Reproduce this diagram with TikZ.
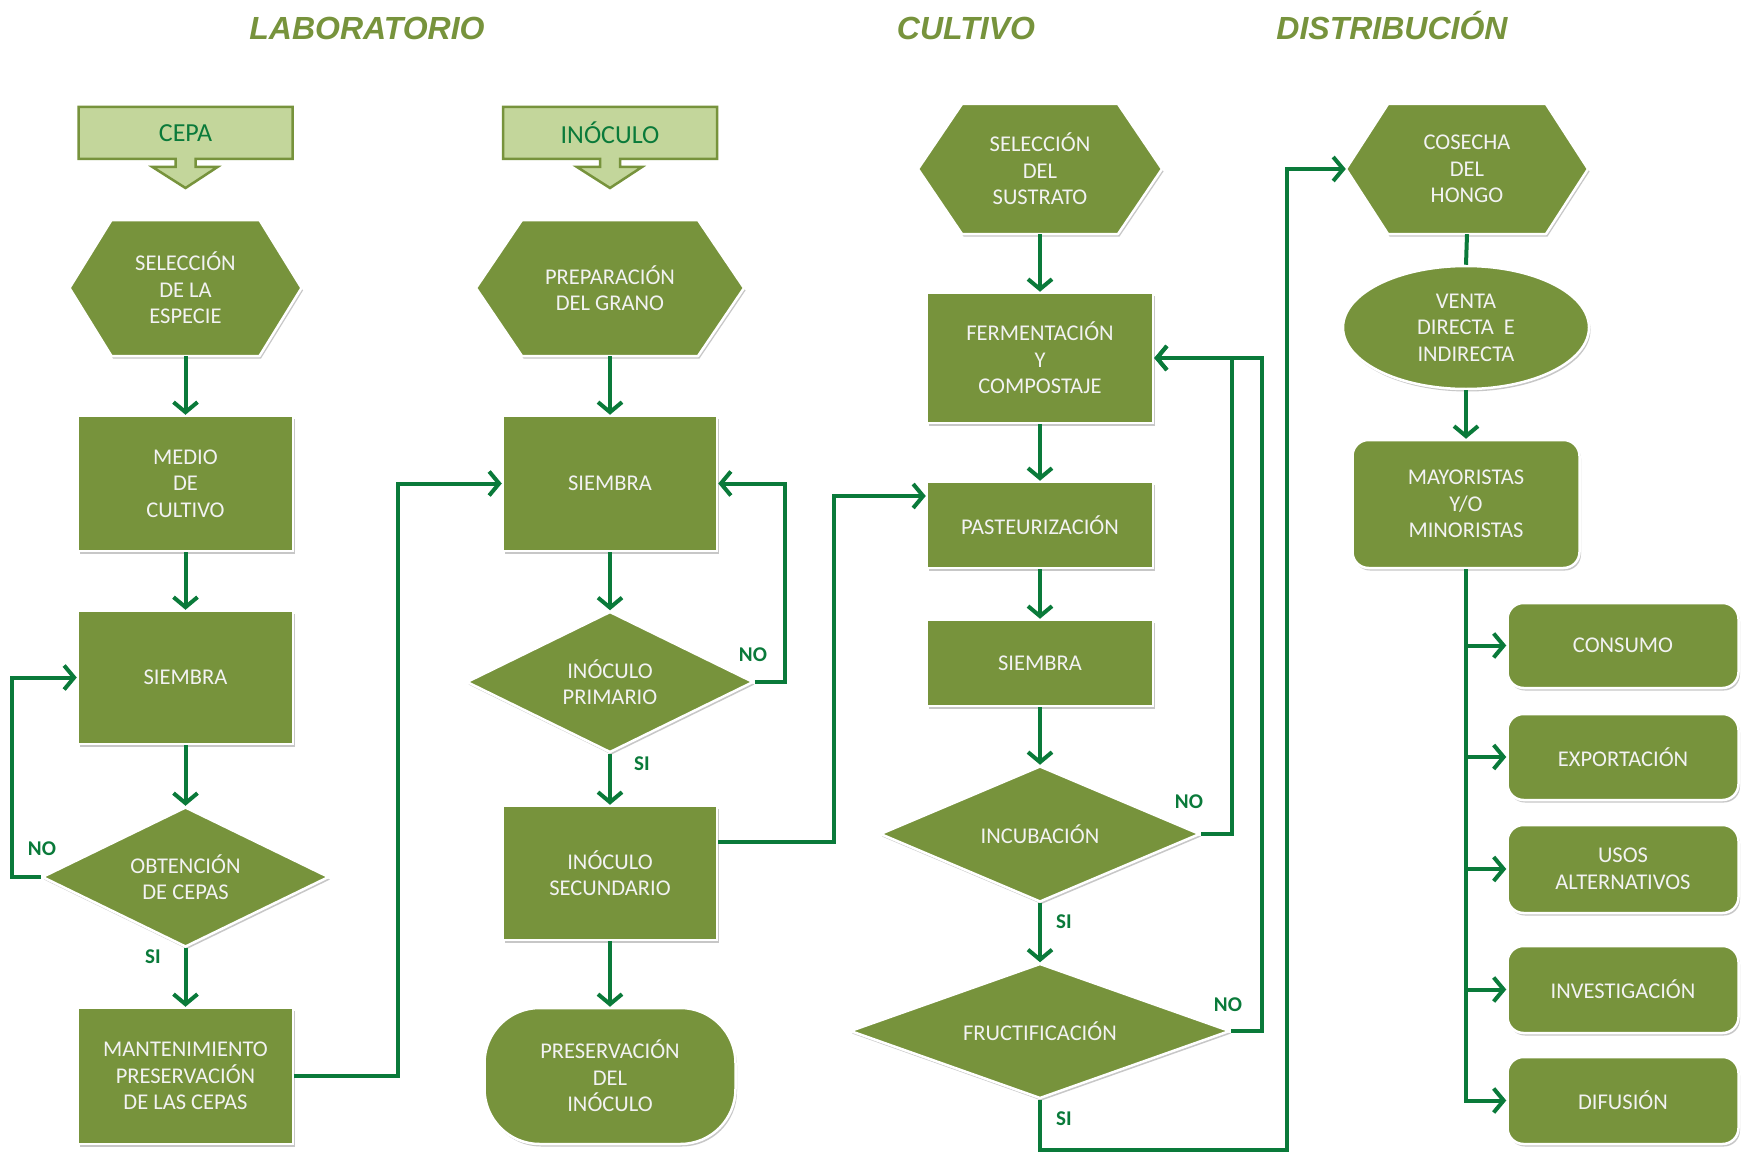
\documentclass[tikz,border=0pt]{standalone}
\usepackage{fontspec}
\setmainfont{Carlito}
\newfontfamily\titlefont{Liberation Sans}
\usetikzlibrary{shapes.geometric,shadows,arrows.meta,calc}
\definecolor{olive}{HTML}{77933C}
\definecolor{lgreen}{HTML}{C3D69B}
\definecolor{cgreen}{HTML}{0A7A3A}
\definecolor{txtc}{HTML}{F2F2F2}
\definecolor{tcol}{HTML}{77933C}
\tikzset{
 shapebase/.style={fill=olive, draw=white, line width=2.5pt,
   drop shadow={shadow xshift=1.5pt, shadow yshift=-2.5pt, opacity=0.4, fill=black!55}},
 txt/.style={text=txtc, align=center, font=\fontsize{22.5}{26.5}\selectfont, inner sep=0pt},
 box/.style={shapebase, txt, rectangle},
 rbox/.style={box, rounded corners=16pt},
 dia/.style={shapebase, txt, diamond},
 ell/.style={shapebase, txt, ellipse},
 hexfill/.style={shapebase, line join=round},
 arr/.style={draw=cgreen, line width=4pt, -{Straight Barb[length=10pt,width=24pt]}},
 conn/.style={draw=cgreen, line width=4pt},
 lab/.style={text=cgreen, font=\fontsize{21}{24}\selectfont\bfseries, inner sep=0pt},
 ttl/.style={text=tcol, font=\titlefont\fontsize{32}{36}\selectfont\bfseries\itshape, anchor=base},
 callout/.style={fill=lgreen, draw=olive, line width=2.5pt, line join=miter},
 calltxt/.style={text=cgreen, font=\fontsize{26}{30}\selectfont, inner sep=0pt}
}
% name, cx, cy, w, h, inset, text
\newcommand\hexnode[7]{%
  \path[hexfill] ({#2-#4/2},#3) -- ({#2-#4/2+#6},{#3-#5/2}) -- ({#2+#4/2-#6},{#3-#5/2})
     -- ({#2+#4/2},#3) -- ({#2+#4/2-#6},{#3+#5/2}) -- ({#2-#4/2+#6},{#3+#5/2}) -- cycle;
  \node[txt, minimum width=#4pt, minimum height=#5pt] (#1) at (#2,#3) {#7};}
% name, cx, text
\newcommand\callbox[3]{%
  \path[callout] ({#2-107},107) -- ({#2+107},107) -- ({#2+107},159) -- ({#2+10},159)
     -- ({#2+10},167) -- ({#2+32},167) -- (#2,188) -- ({#2-33},167) -- ({#2-10},167)
     -- ({#2-10},159) -- ({#2-107},159) -- cycle;
  \node[calltxt] (#1) at (#2,133) {#3};}
\begin{document}
\begin{tikzpicture}[x=1pt,y=-1pt]
\useasboundingbox[fill=white] (0,0) rectangle (1741,1153);

% titles
\node[ttl] (t1) at (367,40) {LABORATORIO};
\node[ttl] (t2) at (966,40) {CULTIVO};
\node[ttl] (t3) at (1392,40) {DISTRIBUCIÓN};

% column 1
\callbox{cepa}{185.5}{CEPA}
\hexnode{sel1}{185.5}{288}{232}{136}{42}{SELECCIÓN\\DE LA\\ESPECIE}
\node[box, minimum width=215pt, minimum height=135pt] (medio) at (185.5,483.5) {MEDIO\\DE\\CULTIVO};
\node[box, minimum width=215pt, minimum height=133pt] (siem1) at (185.5,677.5) {SIEMBRA};
\node[dia, aspect=2.05, minimum width=287pt, minimum height=140pt] (obt) at (185.5,877) {OBTENCIÓN\\DE CEPAS};
\node[box, minimum width=215pt, minimum height=136pt] (mant) at (185.5,1076) {MANTENIMIENTO\\PRESERVACIÓN\\DE LAS CEPAS};

% column 2
\callbox{inoc}{610}{INÓCULO}
\hexnode{prep}{610}{288}{268}{136}{46}{PREPARACIÓN\\DEL GRANO}
\node[box, minimum width=214pt, minimum height=135pt] (siem2) at (610,483.5) {SIEMBRA};
\node[dia, aspect=2.03, minimum width=287pt, minimum height=141pt] (inprim) at (610,682) {INÓCULO\\PRIMARIO};
\node[box, minimum width=214pt, minimum height=134pt] (insec) at (610,873) {INÓCULO\\SECUNDARIO};
\node[box, rounded corners=55pt, minimum width=251pt, minimum height=136pt] (pres) at (610,1076) {PRESERVACIÓN\\DEL\\INÓCULO};

% column 3
\hexnode{selsus}{1040}{169}{244}{130}{44}{SELECCIÓN\\DEL\\SUSTRATO}
\node[box, minimum width=226pt, minimum height=130pt] (ferm) at (1040,358) {FERMENTACIÓN\\Y\\COMPOSTAJE};
\node[box, minimum width=226pt, minimum height=86pt] (past) at (1040,525) {PASTEURIZACIÓN};
\node[box, minimum width=226pt, minimum height=86pt] (siem3) at (1040,663) {SIEMBRA};
\node[dia, aspect=2.35, minimum width=320pt, minimum height=136pt] (incub) at (1040,834) {INCUBACIÓN};
\node[dia, aspect=2.8, minimum width=380pt, minimum height=135pt] (fruct) at (1040,1031) {FRUCTIFICACIÓN};

% column 4
\hexnode{cos}{1467}{169}{242}{130}{42}{COSECHA\\DEL\\HONGO}
\node[ell, minimum width=246pt, minimum height=123pt] (venta) at (1466,327.5) {VENTA\\DIRECTA\ \ E\\INDIRECTA};
\node[rbox, minimum width=227pt, minimum height=128pt] (mayo) at (1466,504) {MAYORISTAS\\Y/O\\MINORISTAS};
\node[rbox, minimum width=231pt, minimum height=85pt] (cons) at (1623,645.5) {CONSUMO};
\node[rbox, minimum width=231pt, minimum height=86pt] (expo) at (1623,757) {EXPORTACIÓN};
\node[rbox, minimum width=231pt, minimum height=88pt] (usos) at (1623,869) {USOS\\ALTERNATIVOS};
\node[rbox, minimum width=231pt, minimum height=87pt] (inv) at (1623,989.5) {INVESTIGACIÓN};
\node[rbox, minimum width=231pt, minimum height=87pt] (dif) at (1623,1100.5) {DIFUSIÓN};

% connectors column 1
\draw[arr] (sel1.south) -- (medio.north);
\draw[arr] (medio.south) -- (siem1.north);
\draw[arr] (siem1.south) -- (obt.north);
\draw[arr] (obt.south) -- (mant.north);
\draw[arr] (obt.west) -- ++(-29,0) |- (siem1.west);
\draw[arr] (mant.east) -- ++(104,0) |- (siem2.west);
\node[lab] (no1) at (42,849) {NO};
\node[lab] (si1) at (153,957) {SI};

% connectors column 2
\draw[arr] (prep.south) -- (siem2.north);
\draw[arr] (siem2.south) -- (inprim.north);
\draw[arr] (inprim.east) -- ++(30,0) |- (siem2.east);
\draw[arr] (inprim.south) -- (insec.north);
\draw[arr] (insec.south) -- (pres.north);
\draw[arr] ([yshift=31pt]insec.east) -- ++(116,0) |- ([yshift=29pt]past.west);
\node[lab] (no2) at (753,655) {NO};
\node[lab] (si2) at (642,764) {SI};

% connectors column 3
\draw[arr] (selsus.south) -- (ferm.north);
\draw[arr] (ferm.south) -- (past.north);
\draw[arr] (past.south) -- (siem3.north);
\draw[arr] (siem3.south) -- (incub.north);
\draw[arr] (incub.south) -- (fruct.north);
\draw[arr] (incub.east) -- ++(31,0) |- (ferm.east);
\draw[arr] (fruct.east) -- ++(31,0) |- (ferm.east);
\coordinate (b1) at (1287,1150);
\draw[arr] (fruct.south) |- (b1) |- (cos.west);
\node[lab] (no3) at (1189,802) {NO};
\node[lab] (si3) at (1064,922) {SI};
\node[lab] (no4) at (1228,1005) {NO};
\node[lab] (si4) at (1064,1119) {SI};

% connectors column 4
\draw[conn] (cos.south) -- (venta.north);
\draw[arr] (venta.south) -- (mayo.north);
\draw[arr] (mayo.south) |- (dif.west);
\draw[arr] (mayo.south |- cons.west) -- (cons.west);
\draw[arr] (mayo.south |- expo.west) -- (expo.west);
\draw[arr] (mayo.south |- usos.west) -- (usos.west);
\draw[arr] (mayo.south |- inv.west) -- (inv.west);
\end{tikzpicture}
\end{document}
